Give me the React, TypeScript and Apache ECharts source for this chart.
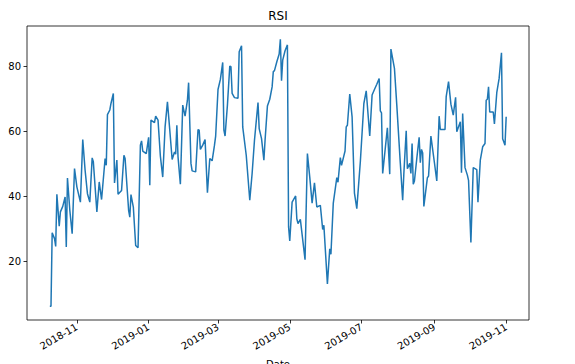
import React, { useEffect, useRef } from 'react';
import * as echarts from 'echarts';

// Day offsets relative to BASE_DATE, and RSI values
const BASE_DATE = '2018-11-01';
const dayOffsets = [
  -23, -22, -21, -19, -18, -17, -15, -14, -12, -10, -9, -8, -6, -4, -2, 0, 3, 5, 7, 9,
  11, 13, 14, 17, 19, 21, 24, 25, 26, 28, 29, 31, 32, 34, 35, 38, 40, 41, 43, 44,
  45, 46, 48, 50, 52, 54, 55, 56, 59, 61, 62, 63, 66, 67, 69, 71, 73, 75, 77, 79,
  81, 83, 84, 85, 86, 88, 90, 92, 94, 95, 97, 98, 101, 103, 104, 105, 107, 109, 111, 113,
  115, 117, 118, 120, 122, 124, 125, 126, 128, 130, 131, 132, 134, 137, 138, 140, 141, 144, 147, 149,
  151, 154, 155, 157, 159, 160, 162, 164, 166, 167, 168, 170, 172, 173, 174, 175, 177, 179, 180, 181,
  183, 186, 187, 188, 190, 194, 196, 198, 200, 202, 204, 207, 209, 210, 213, 215, 216, 218, 221, 222,
  224, 225, 228, 229, 230, 232, 234, 236, 238, 241, 244, 246, 249, 251, 253, 255, 257, 258, 259, 260,
  264, 266, 267, 270, 272, 275, 277, 278, 280, 281, 283, 284, 285, 286, 287, 289, 291, 292, 293, 294,
  295, 298, 299, 301, 304, 306, 308, 309, 313, 314, 316, 318, 320, 322, 323, 326, 327, 328, 330, 332,
  333, 335, 337, 340, 341, 343, 345, 347, 348, 349, 350, 351, 354, 355, 357, 359, 361, 362, 364, 365,
];
const rsiValues = [
  6.2, 6.2, 28.8, 27.0, 24.6, 40.6, 30.8, 35.2, 36.9, 39.8, 24.4, 45.6, 35.7, 28.5, 48.5, 42.9, 38.2, 57.4, 48.0, 40.8,
  38.2, 51.8, 50.6, 35.2, 44.4, 39.0, 51.6, 49.5, 65.1, 66.5, 68.5, 71.6, 44.1, 51.1, 40.6, 41.8, 52.6, 51.6, 41.0, 35.7,
  33.6, 40.5, 36.7, 24.9, 24.2, 55.7, 57.0, 53.9, 53.1, 58.1, 43.4, 63.4, 62.6, 64.6, 63.4, 52.3, 45.9, 61.3, 69.0, 60.3,
  51.3, 53.6, 52.9, 61.8, 52.1, 43.7, 68.0, 64.6, 69.5, 74.9, 50.1, 47.8, 47.5, 60.5, 60.3, 54.4, 55.7, 57.4, 41.1, 51.6,
  50.9, 55.7, 58.5, 72.8, 75.9, 81.1, 60.3, 58.5, 68.0, 80.0, 79.8, 71.6, 70.3, 70.1, 84.4, 86.2, 61.3, 52.6, 38.8, 47.0,
  57.2, 68.8, 60.8, 57.7, 51.1, 57.2, 67.7, 69.8, 73.6, 78.3, 78.6, 81.3, 83.7, 88.2, 75.5, 81.8, 84.7, 86.5, 30.6, 26.3,
  38.2, 40.1, 33.1, 31.6, 32.9, 20.5, 53.1, 45.9, 37.9, 44.1, 36.7, 37.2, 29.8, 31.1, 13.1, 23.9, 22.2, 37.9, 45.7, 44.3,
  51.9, 49.5, 53.9, 61.3, 61.8, 71.4, 64.4, 41.0, 36.2, 50.6, 68.5, 72.4, 58.5, 71.1, 72.8, 74.4, 76.2, 66.2, 65.6, 47.0,
  61.0, 46.8, 85.2, 79.3, 68.0, 50.1, 38.8, 47.0, 60.1, 48.5, 50.1, 47.0, 56.2, 43.7, 44.7, 51.6, 58.1, 50.3, 54.4, 53.3,
  36.9, 45.7, 46.2, 58.5, 50.3, 44.7, 64.6, 60.5, 60.5, 70.6, 75.2, 68.3, 64.9, 70.4, 59.8, 62.9, 47.2, 65.4, 48.8, 46.5,
  44.9, 25.8, 48.8, 48.2, 38.2, 51.1, 55.2, 56.2, 69.5, 69.8, 73.6, 65.9, 65.9, 62.2, 71.8, 76.2, 84.1, 57.7, 55.7, 64.4,
];
const tickLabels = ['2018-11', '2019-01', '2019-03', '2019-05', '2019-07', '2019-09', '2019-11'];
const yTicks = [20, 40, 60, 80];

const DAY = 86400000;
const FONT = 'DejaVu Sans';

export default function App() {
  const ref = useRef<HTMLDivElement>(null);
  useEffect(() => {
    document.body.style.margin = '0';
    const base = Date.parse(BASE_DATE + 'T00:00:00Z');
    const data = dayOffsets.map((d, i) => [base + d * DAY, rsiValues[i]]);
    const tickTimes = tickLabels.map((t) => Date.parse(t + '-01T00:00:00Z'));
    const chart = echarts.init(ref.current!, null, { renderer: 'svg' });
    chart.setOption({
      animation: false,
      backgroundColor: '#ffffff',
      textStyle: { fontFamily: FONT },
      grid: {
        left: 27,
        right: 46,
        top: 26,
        bottom: 44,
        show: true,
        borderColor: '#000000',
        borderWidth: 0.8,
        backgroundColor: 'transparent',
      },
      xAxis: {
        type: 'value',
        min: base - 42.4 * DAY,
        max: base + 384.4 * DAY,
        splitLine: { show: false },
        axisLine: { show: false },
        axisTick: {
          show: true,
          length: 3.5,
          customValues: tickTimes,
          lineStyle: { color: '#000000', width: 0.8 },
        },
        axisLabel: {
          customValues: tickTimes,
          formatter: (v: number) => new Date(v).toISOString().slice(0, 7),
          rotate: 30,
          fontSize: 10,
          color: '#000000',
          margin: 6,
          fontFamily: FONT,
        },
      },
      yAxis: {
        type: 'value',
        min: 2,
        max: 92.3,
        splitLine: { show: false },
        axisLine: { show: false },
        axisTick: {
          show: true,
          length: 3.5,
          customValues: yTicks,
          lineStyle: { color: '#000000', width: 0.8 },
        },
        axisLabel: {
          customValues: yTicks,
          fontSize: 10,
          color: '#000000',
          margin: 6,
          fontFamily: FONT,
        },
      },
      graphic: [
        {
          type: 'text',
          x: 278,
          y: 16,
          style: {
            text: 'RSI',
            fontSize: 12,
            fontFamily: FONT,
            fill: '#000000',
            textAlign: 'center',
            textVerticalAlign: 'middle',
          },
        },
        {
          type: 'text',
          x: 278,
          y: 359,
          style: {
            text: 'Date',
            fontSize: 10,
            fontFamily: FONT,
            fill: '#000000',
            textAlign: 'center',
            textVerticalAlign: 'top',
          },
        },
      ],
      series: [
        {
          type: 'line',
          data,
          showSymbol: false,
          symbol: 'none',
          lineStyle: { color: '#1f77b4', width: 1.5 },
          itemStyle: { color: '#1f77b4' },
        },
      ],
    });
    return () => chart.dispose();
  }, []);
  return <div ref={ref} style={{ width: 575, height: 364 }} />;
}
